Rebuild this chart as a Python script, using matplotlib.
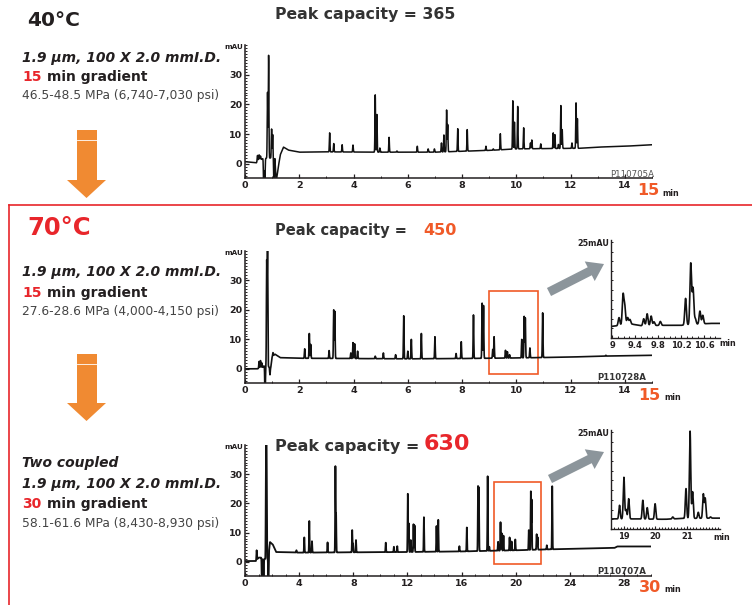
import numpy as np
import matplotlib
matplotlib.use("Agg")
import matplotlib.pyplot as plt
from matplotlib.patches import Polygon, FancyArrow, Rectangle
from matplotlib.lines import Line2D
from matplotlib.ticker import MultipleLocator

plt.rcParams['font.family'] = ['DejaVu Sans']

# ---------------- data ----------------
# Panel 1: 40 C, 15 min gradient
base1_t = [0, 0.42, 0.5, 0.62, 0.66, 1.1, 1.15, 1.22, 1.3, 1.42, 1.6, 2.0, 3, 5, 7, 8, 9, 10, 11, 12.3, 13, 14, 15]
base1_v = [0.7, 0.3, 1.5, 1.5, 1.8, 2.0, -6, -1.5, 3, 5.6, 4.6, 3.9, 4.0, 3.9, 3.9, 4.2, 4.5, 5.0, 5.1, 5.2, 5.6, 5.9, 6.4]
peak1_t = [0.46, 0.52, 0.57, 0.69, 0.73, 0.83, 0.87, 0.98, 1.02, 1.07, 3.12, 3.27, 3.58, 3.98, 4.80, 4.86,
           4.97, 5.31, 5.6, 6.35, 6.75, 6.98, 7.24, 7.33, 7.43, 7.47, 7.84, 8.19, 8.88, 9.15, 9.41, 9.87,
           9.93, 10.05, 10.27, 10.52, 10.57, 10.9, 11.36, 11.42, 11.55, 11.64, 11.69, 12.05, 12.2, 12.25]
peak1_h = [2.8, 3.0, 2.6, -9, -9, 24, 36.5, 11.7, 9.8, -9, 10.4, 6.8, 6.4, 6.3, 23.2, 16.6,
           5.3, 8.9, 4.3, 5.9, 5.0, 5.0, 7.0, 9.7, 18.1, 13.2, 11.8, 11.5, 5.9, 5.0, 10.1, 21.2,
           14.0, 19.3, 12.1, 7.0, 8.0, 6.7, 10.4, 9.8, 6.5, 19.6, 11.5, 7.0, 20.5, 15.2]

# Panel 2: 70 C, 15 min gradient
base2_t = [0, 0.45, 0.65, 0.7, 0.95, 1.0, 1.1, 1.3, 2, 4, 6, 8, 10, 12, 13, 15]
base2_v = [0.0, 0.0, 0.5, 1.0, 0.5, 4.0, 5.0, 3.8, 3.6, 3.5, 3.4, 3.5, 3.7, 4.0, 4.3, 4.6]
peak2_t = [0.52, 0.57, 0.62, 0.74, 0.80, 0.83, 0.92, 1.03, 2.2, 2.37, 2.42, 3.1, 3.27, 3.31, 3.9, 3.98,
           4.04, 4.15, 4.8, 5.1, 5.55, 5.85, 6.0, 6.13, 6.5, 7.0, 7.78, 7.97, 8.42, 8.74, 8.79, 9.13,
           9.18, 9.6, 9.67, 9.75, 10.2, 10.29, 10.33, 10.5, 10.97, 13.3]
peak2_h = [2.5, 2.8, 2.0, -10, 36, 42, -2, 5.5, 6.8, 12, 8.3, 6.2, 20, 19.5, 5.4, 8.9,
           8.5, 6.0, 4.3, 5.4, 4.8, 18, 6.0, 10, 12, 10.9, 5.2, 9.2, 18.3, 22.3, 21.5, 6.6,
           10.9, 6.3, 5.8, 4.8, 10, 17.8, 17.3, 7.1, 19, 4.6]

# Panel 3: two coupled columns, 30 min gradient
base3_t = [0, 0.8, 1.0, 1.2, 1.3, 1.7, 1.85, 2.05, 2.3, 4, 8, 12, 16, 20, 24, 27.3, 27.5, 30]
base3_v = [0.3, 0.3, 1.5, 1.5, 1.0, 1.0, 6.8, 6.0, 3.4, 3.2, 3.3, 3.4, 3.6, 4.0, 4.5, 4.8, 5.3, 5.3]
peak3_t = [0.86, 1.25, 1.37, 1.55, 1.59, 1.73, 3.8, 4.38, 4.75, 4.95, 6.1, 6.68, 6.73, 7.92, 7.98, 8.2,
           10.4, 11.0, 11.25, 12.03, 12.1, 12.25, 12.45, 12.53, 13.22, 14.15, 14.28, 15.84, 16.39, 17.22,
           17.28, 17.93, 18.05, 18.7, 18.88, 18.97, 19.1, 19.55, 19.7, 19.97, 20.97, 21.12, 21.18, 21.55,
           21.62, 22.3, 22.7]
peak3_h = [4.0, -9, -9, 38, 41, -9, 4.0, 8.4, 14.0, 7.1, 6.7, 32.5, 16, 10.9, 6.3, 7.5,
           6.6, 5.2, 5.4, 23.3, 13.2, 7.5, 12.9, 12.5, 15.3, 12.3, 14.4, 5.4, 11.8, 25.9,
           25.5, 29.3, 5.2, 6.9, 13.6, 9.8, 9.0, 8.4, 7.0, 7.7, 10.9, 24.1, 21.3, 9.5,
           8.5, 5.7, 25.9]

# Inset of panel 2 (9 - 10.8 min)
basei2_t = [8.98, 9.1, 9.35, 9.5, 9.9, 10.2, 10.7, 10.88]
basei2_v = [3.0, 3.2, 3.6, 3.2, 3.3, 3.3, 3.8, 3.8]
peaki2_t = [9.12, 9.19, 9.22, 9.27, 9.31, 9.55, 9.61, 9.68, 9.73, 9.84, 10.28, 10.37, 10.41, 10.45, 10.53, 10.58]
peaki2_h = [5.3, 11.1, 8.1, 5.3, 4.8, 5.0, 6.3, 5.7, 4.2, 4.3, 10.3, 19.4, 12.9, 5.0, 7.0, 5.9]

# Inset of panel 3 (18.6 - 22 min)
basei3_t = [18.59, 19.3, 20.3, 20.8, 21.8, 22.05]
basei3_v = [2.6, 2.6, 2.5, 2.7, 2.8, 2.8]
peaki3_t = [18.86, 19.0, 19.07, 19.15, 19.6, 19.74, 19.99, 20.55, 20.97, 21.1, 21.18, 21.36, 21.52, 21.58, 21.75]
peaki3_h = [6.1, 13.3, 5.0, 7.8, 7.4, 5.5, 6.5, 3.1, 10.4, 25.2, 9.6, 4.3, 9.0, 7.9, 3.1]

x_ticks_15 = [0, 2, 4, 6, 8, 10, 12, 14]
x_ticks_30 = [0, 4, 8, 12, 16, 20, 24, 28]
y_ticks = [0, 10, 20, 30]
inset2_ticks = [9, 9.4, 9.8, 10.2, 10.6]
inset2_labels = ["9", "9.4", "9.8", "10.2", "10.6"]
inset3_ticks = [19, 20, 21]

# ---------------- helpers ----------------
W, H = 752, 605
fig = plt.figure(figsize=(W / 100, H / 100), dpi=100)

DARK = '#231f20'
RED = '#e8262b'
ORANGE_RED = '#f05a28'
ORANGE = '#f08a32'
GREY_ARROW = '#8c959b'


def rect(l, t, r, b):
    return [l / W, 1 - b / H, (r - l) / W, (b - t) / H]


def ftext(x, y, s, **kw):
    kw.setdefault('va', 'center')
    kw.setdefault('ha', 'left')
    kw.setdefault('color', DARK)
    fig.text(x / W, 1 - y / H, s, **kw)


def trace(t, bt, bv, pt, ph, sigma):
    y = np.interp(t, bt, bv)
    for ti, hi in zip(pt, ph):
        amp = hi - np.interp(ti, bt, bv)
        y = y + amp * np.exp(-0.5 * ((t - ti) / sigma) ** 2)
    return y


def style_main(ax, xmax, xticks, xminor):
    ax.set_xlim(0, xmax)
    ax.set_ylim(-4.8, 40)
    for s in ['top', 'right']:
        ax.spines[s].set_visible(False)
    for s in ['left', 'bottom']:
        ax.spines[s].set_linewidth(1.1)
        ax.spines[s].set_color(DARK)
    ax.set_xticks(xticks)
    ax.set_xticklabels([str(v) for v in xticks], fontsize=6.8, fontweight='bold', color=DARK)
    ax.set_yticks(y_ticks)
    ax.set_yticklabels([str(v) for v in y_ticks], fontsize=6.8, fontweight='bold', color=DARK)
    ax.xaxis.set_minor_locator(MultipleLocator(xminor))
    ax.yaxis.set_minor_locator(MultipleLocator(1))
    ax.tick_params(which='major', direction='in', length=3, width=0.9, pad=2, colors=DARK)
    ax.tick_params(which='minor', direction='in', length=1.6, width=0.7, colors=DARK)
    ax.patch.set_alpha(0)


def style_inset(ax, xlim, xticks, xlabels, xminor):
    ax.set_xlim(*xlim)
    ax.set_ylim(0, 25.5)
    for s in ['top', 'right']:
        ax.spines[s].set_visible(False)
    for s in ['left', 'bottom']:
        ax.spines[s].set_linewidth(1.0)
        ax.spines[s].set_color(DARK)
    ax.set_xticks(xticks)
    ax.set_xticklabels(xlabels, fontsize=6.0, fontweight='bold', color=DARK)
    ax.set_yticks([])
    ax.yaxis.set_minor_locator(MultipleLocator(2.5))
    ax.xaxis.set_minor_locator(MultipleLocator(xminor))
    ax.tick_params(which='major', direction='in', length=2.5, width=0.8, pad=2, colors=DARK)
    ax.tick_params(which='minor', direction='in', length=1.6, width=0.7, colors=DARK)
    ax.patch.set_alpha(0)


# ---------------- main axes ----------------
ax1 = fig.add_axes(rect(245, 45, 652, 178))
ax2 = fig.add_axes(rect(245, 251, 652, 383))
ax3 = fig.add_axes(rect(245, 445, 651, 576))

t15 = np.linspace(0, 15, 7501)
t30 = np.linspace(0, 30, 12001)
ax1.plot(t15, trace(t15, base1_t, base1_v, peak1_t, peak1_h, 0.011), color='#111111', lw=1.1)
ax2.plot(t15, trace(t15, base2_t, base2_v, peak2_t, peak2_h, 0.011), color='#111111', lw=1.2)
ax3.plot(t30, trace(t30, base3_t, base3_v, peak3_t, peak3_h, 0.018), color='#111111', lw=1.3)

style_main(ax1, 15, x_ticks_15, 1)
style_main(ax2, 15, x_ticks_15, 1)
style_main(ax3, 30, x_ticks_30, 1)

# zoom boxes
ax2.add_patch(Rectangle((9.0, -1.7), 1.8, 28.2, fill=False, edgecolor=ORANGE_RED, lw=1.2, clip_on=False))
ax3.add_patch(Rectangle((18.4, -0.7), 3.5, 28.0, fill=False, edgecolor=ORANGE_RED, lw=1.2, clip_on=False))

# ---------------- insets ----------------
ai2 = fig.add_axes(rect(611, 240, 720, 338))
ti2 = np.linspace(8.98, 10.88, 1901)
ai2.plot(ti2, trace(ti2, basei2_t, basei2_v, peaki2_t, peaki2_h, 0.014), color='#111111', lw=1.2)
style_inset(ai2, (8.98, 10.88), inset2_ticks, inset2_labels, 0.1)

ai3 = fig.add_axes(rect(611, 430, 720, 529))
ti3 = np.linspace(18.59, 22.05, 3461)
ai3.plot(ti3, trace(ti3, basei3_t, basei3_v, peaki3_t, peaki3_h, 0.021), color='#111111', lw=1.2)
style_inset(ai3, (18.59, 22.05), inset3_ticks, [str(v) for v in inset3_ticks], 0.1)

# ---------------- axis annotations ----------------
for ytop in (47, 253, 447):
    ftext(243, ytop, "mAU", ha='right', fontsize=5.2, fontweight='bold')
ftext(654, 175, "P110705A", ha='right', fontsize=6.2, color='#555555')
ftext(646, 377, "P110728A", ha='right', fontsize=6.2, fontweight='bold', color='#333333')
ftext(646, 572, "P110707A", ha='right', fontsize=6.2, fontweight='bold', color='#333333')

ftext(648, 190, "15", ha='center', fontsize=11.5, fontweight='bold', color=ORANGE_RED)
ftext(662, 193, "min", fontsize=5.8, fontweight='bold')
ftext(649, 395, "15", ha='center', fontsize=11.5, fontweight='bold', color=ORANGE_RED)
ftext(664, 397, "min", fontsize=5.8, fontweight='bold')
ftext(650, 588, "30", ha='center', fontsize=11.5, fontweight='bold', color=ORANGE_RED)
ftext(664, 590, "min", fontsize=5.8, fontweight='bold')

ftext(609, 243, "25mAU", ha='right', fontsize=5.8, fontweight='bold')
ftext(609, 434, "25mAU", ha='right', fontsize=5.8, fontweight='bold')
ftext(719, 343, "min", fontsize=5.8, fontweight='bold')
ftext(713, 537, "min", fontsize=5.8, fontweight='bold')

# ---------------- titles ----------------
ftext(275, 15, "Peak capacity = 365", fontsize=11.3, fontweight='bold', color='#333333')
ftext(275, 230, "Peak capacity = ", fontsize=10.5, fontweight='bold', color='#333333')
ftext(423, 230, "450", fontsize=11.5, fontweight='bold', color=ORANGE_RED)
ftext(275, 446, "Peak capacity = ", fontsize=11.5, fontweight='bold', color='#333333')
ftext(424, 444, "630", fontsize=16, fontweight='bold', color=RED)

# ---------------- left-hand text blocks ----------------
ftext(27, 20, "40°C", fontsize=14.5, fontweight='bold', color=DARK)
ftext(22, 58, "1.9 µm, 100 X 2.0 mmI.D.", fontsize=10, fontweight='bold', style='italic')
ftext(22, 77, "15", fontsize=10, fontweight='bold', color=RED)
ftext(47, 77, "min gradient", fontsize=10, fontweight='bold')
ftext(22, 96, "46.5-48.5 MPa (6,740-7,030 psi)", fontsize=8.8, color='#444444')

ftext(27, 228, "70°C", fontsize=17.5, fontweight='bold', color=RED)
ftext(22, 272, "1.9 µm, 100 X 2.0 mmI.D.", fontsize=10, fontweight='bold', style='italic')
ftext(22, 293, "15", fontsize=10, fontweight='bold', color=RED)
ftext(47, 293, "min gradient", fontsize=10, fontweight='bold')
ftext(22, 312, "27.6-28.6 MPa (4,000-4,150 psi)", fontsize=8.8, color='#444444')

ftext(22, 463, "Two coupled", fontsize=10, fontweight='bold', style='italic')
ftext(22, 484, "1.9 µm, 100 X 2.0 mmI.D.", fontsize=10, fontweight='bold', style='italic')
ftext(22, 504, "30", fontsize=10, fontweight='bold', color=RED)
ftext(47, 504, "min gradient", fontsize=10, fontweight='bold')
ftext(22, 523, "58.1-61.6 MPa (8,430-8,930 psi)", fontsize=8.8, color='#444444')

# ---------------- shapes: arrows and frame ----------------
tr = fig.dpi_scale_trans


def pin(x, y):
    return (x / 100, (H - y) / 100)


def orange_arrow(top, head_top, tip):
    pts = [pin(77, top), pin(97, top), pin(97, head_top), pin(106, head_top),
           pin(86.5, tip), pin(67, head_top), pin(77, head_top)]
    fig.patches.append(Polygon(pts, closed=True, facecolor=ORANGE, edgecolor='none', transform=tr))
    x0, y0 = pin(77, top + 10)
    x1, _ = pin(97, top + 10)
    fig.lines.append(Line2D([x0, x1], [y0, y0], color='white', lw=0.6, transform=tr))


orange_arrow(130, 180, 198)
orange_arrow(354, 403, 421)


def grey_arrow(xt, yt, xh, yh):
    x0, y0 = pin(xt, yt)
    x1, y1 = pin(xh, yh)
    fig.patches.append(FancyArrow(x0, y0, x1 - x0, y1 - y0, width=0.09, head_width=0.22,
                                  head_length=0.16, length_includes_head=True,
                                  facecolor=GREY_ARROW, edgecolor='none', transform=tr))


grey_arrow(549, 292, 604, 264)
grey_arrow(550, 479, 604, 452)

# red frame around the 70 C section
fx0, fy0 = pin(8.5, 205)
fx1, fy1 = pin(752, 605)
fig.lines.append(Line2D([fx0, fx0], [fy1, fy0], color=RED, lw=1.2, transform=tr))
fig.lines.append(Line2D([fx0, fx1], [fy0, fy0], color=RED, lw=1.2, transform=tr))

fig.savefig("out.png", dpi=100)
